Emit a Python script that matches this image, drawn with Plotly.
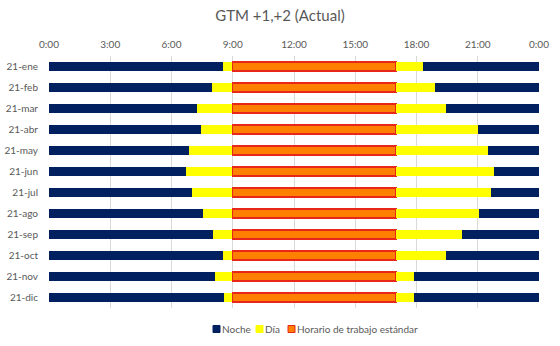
import plotly.graph_objects as go

# Monthly sunrise / sunset (hours, local time) on the 21st of each month
months = ["21-ene", "21-feb", "21-mar", "21-abr", "21-may", "21-jun",
          "21-jul", "21-ago", "21-sep", "21-oct", "21-nov", "21-dic"]
sunrise = [8.50, 8.00, 7.26, 7.43, 6.86, 6.72, 7.02, 7.53, 8.02, 8.52, 8.13, 8.55]
sunset = [18.30, 18.92, 19.46, 20.99, 21.50, 21.79, 21.65, 21.04, 20.23, 19.43, 17.88, 17.88]

# Standard working hours
work_start = 9
work_end = 17

tick_hours = [0, 3, 6, 9, 12, 15, 18, 21, 24]
tick_labels = ["0:00", "3:00", "6:00", "9:00", "12:00", "15:00", "18:00", "21:00", "0:00"]

legend_names = ["Noche", "Día", "Horario de trabajo estándar"]

NAVY = "#002060"
YELLOW = "#FFFF00"
ORANGE = "#FF8000"
RED = "#E8261A"
TEXT = "#595959"
FONT = "Lato, sans-serif"

W, H = 560, 346
ML, MR, MT, MB = 49, 21, 56, 38

night_am = sunrise
day_am = [work_start - s for s in sunrise]
work = [work_end - work_start for _ in months]
day_pm = [s - work_end for s in sunset]
night_pm = [24 - s for s in sunset]

fig = go.Figure()
segments = [
    (legend_names[0], night_am, NAVY, 0),
    (legend_names[1], day_am, YELLOW, 0),
    (legend_names[2], work, ORANGE, 1.2),
    (legend_names[1], day_pm, YELLOW, 0),
    (legend_names[0], night_pm, NAVY, 0),
]
for name, vals, color, lw in segments:
    fig.add_trace(go.Bar(
        y=months, x=vals, orientation="h", name=name,
        showlegend=False,
        marker=dict(color=color, line=dict(color=RED, width=lw)),
        hoverinfo="skip",
    ))

# Compact legend under the plot: small square swatch followed by its label
pw = W - ML - MR
ph = H - MT - MB
def px_x(p):
    return (p - ML) / pw
def px_y(p):
    return (H - MB - p) / ph

legend_y = 329
sw = 7
items = [
    (legend_names[0], NAVY, NAVY, 213),
    (legend_names[1], YELLOW, YELLOW, 256),
    (legend_names[2], ORANGE, RED, 288),
]
for name, fill, edge, x0 in items:
    fig.add_shape(type="rect", xref="paper", yref="paper",
                  x0=px_x(x0), x1=px_x(x0 + sw),
                  y0=px_y(legend_y + sw / 2), y1=px_y(legend_y - sw / 2),
                  fillcolor=fill, line=dict(color=edge, width=1))
    fig.add_annotation(text=name, xref="paper", yref="paper",
                       x=px_x(x0 + sw), y=px_y(legend_y),
                       xanchor="left", yanchor="middle", showarrow=False,
                       font=dict(family=FONT, size=10, color=TEXT))

fig.update_layout(
    barmode="stack",
    bargap=0.57,
    width=W, height=H,
    margin=dict(l=ML, r=MR, t=MT, b=MB, autoexpand=False),
    paper_bgcolor="white", plot_bgcolor="white",
    font=dict(family=FONT, size=10, color=TEXT),
    title=dict(text="GTM +1,+2 (Actual)", x=0.5, xanchor="center",
               y=0.955, yanchor="middle",
               font=dict(family=FONT, size=15, color=TEXT)),
    showlegend=False,
)
fig.update_xaxes(
    side="top", range=[0, 24], tickvals=tick_hours, ticktext=tick_labels,
    showgrid=True, gridcolor="#D9D9D9", gridwidth=1, zeroline=False,
    showline=False, ticks="outside", ticklen=3, tickcolor="rgba(0,0,0,0)",
    automargin=False,
    tickfont=dict(family=FONT, size=10, color=TEXT),
)
fig.update_yaxes(
    autorange="reversed", showgrid=False, zeroline=False, showline=False,
    ticks="outside", ticklen=8, tickcolor="rgba(0,0,0,0)", automargin=False,
    tickfont=dict(family=FONT, size=10, color=TEXT),
)

fig.write_html("out.html")
